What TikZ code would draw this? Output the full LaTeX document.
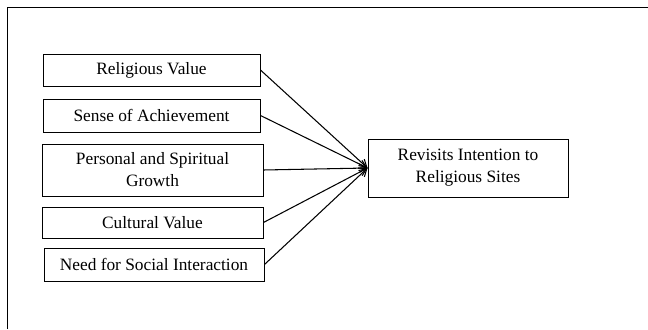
\documentclass[tikz,border=0pt]{standalone}
\usepackage{fontspec}
\setmainfont{Liberation Serif}
\usepackage{tikz}
\usetikzlibrary{arrows.meta}

\begin{document}
\begin{tikzpicture}[
    >={Straight Barb[length=2.2mm,width=2.6mm]},
    factor/.style={
        draw,
        line width=0.8pt,
        align=center,
        inner sep=0pt,
        font=\fontsize{14.8}{18.8}\selectfont
    },
    link/.style={
        ->,
        line width=0.9pt
    }
]

    % Marges
    \useasboundingbox (0,0) rectangle (19.44,9.87);

    % Marc
    \draw[line width=0.8pt] (0.21,0) -- (0.21,9.66) -- (19.44,9.66);

    % Factors
    \node[factor, minimum width=6.51cm, minimum height=0.96cm]
        (religious) at (4.545,7.77) {Religious Value};

    \node[factor, minimum width=6.51cm, minimum height=0.99cm]
        (achievement) at (4.545,6.405) {Sense of Achievement};

    \node[factor, minimum width=6.63cm, minimum height=1.56cm]
        (growth) at (4.575,4.77) {Personal and Spiritual\\Growth};

    \node[factor, minimum width=6.63cm, minimum height=0.93cm]
        (cultural) at (4.575,3.195) {Cultural Value};

    \node[factor, minimum width=6.6cm, minimum height=0.99cm]
        (social) at (4.62,1.935) {Need for Social Interaction};

    % Intencio
    \node[factor, minimum width=6.0cm, minimum height=1.74cm]
        (revisit) at (14.04,4.83) {Revisits Intention to\\Religious Sites};

    % Fletxes
    \draw[link] (religious.east) -- (revisit.west);
    \draw[link] (achievement.east) -- (revisit.west);
    \draw[link] (growth.east) -- (revisit.west);
    \draw[link] (cultural.east) -- (revisit.west);
    \draw[link] (social.east) -- (revisit.west);

\end{tikzpicture}
\end{document}
